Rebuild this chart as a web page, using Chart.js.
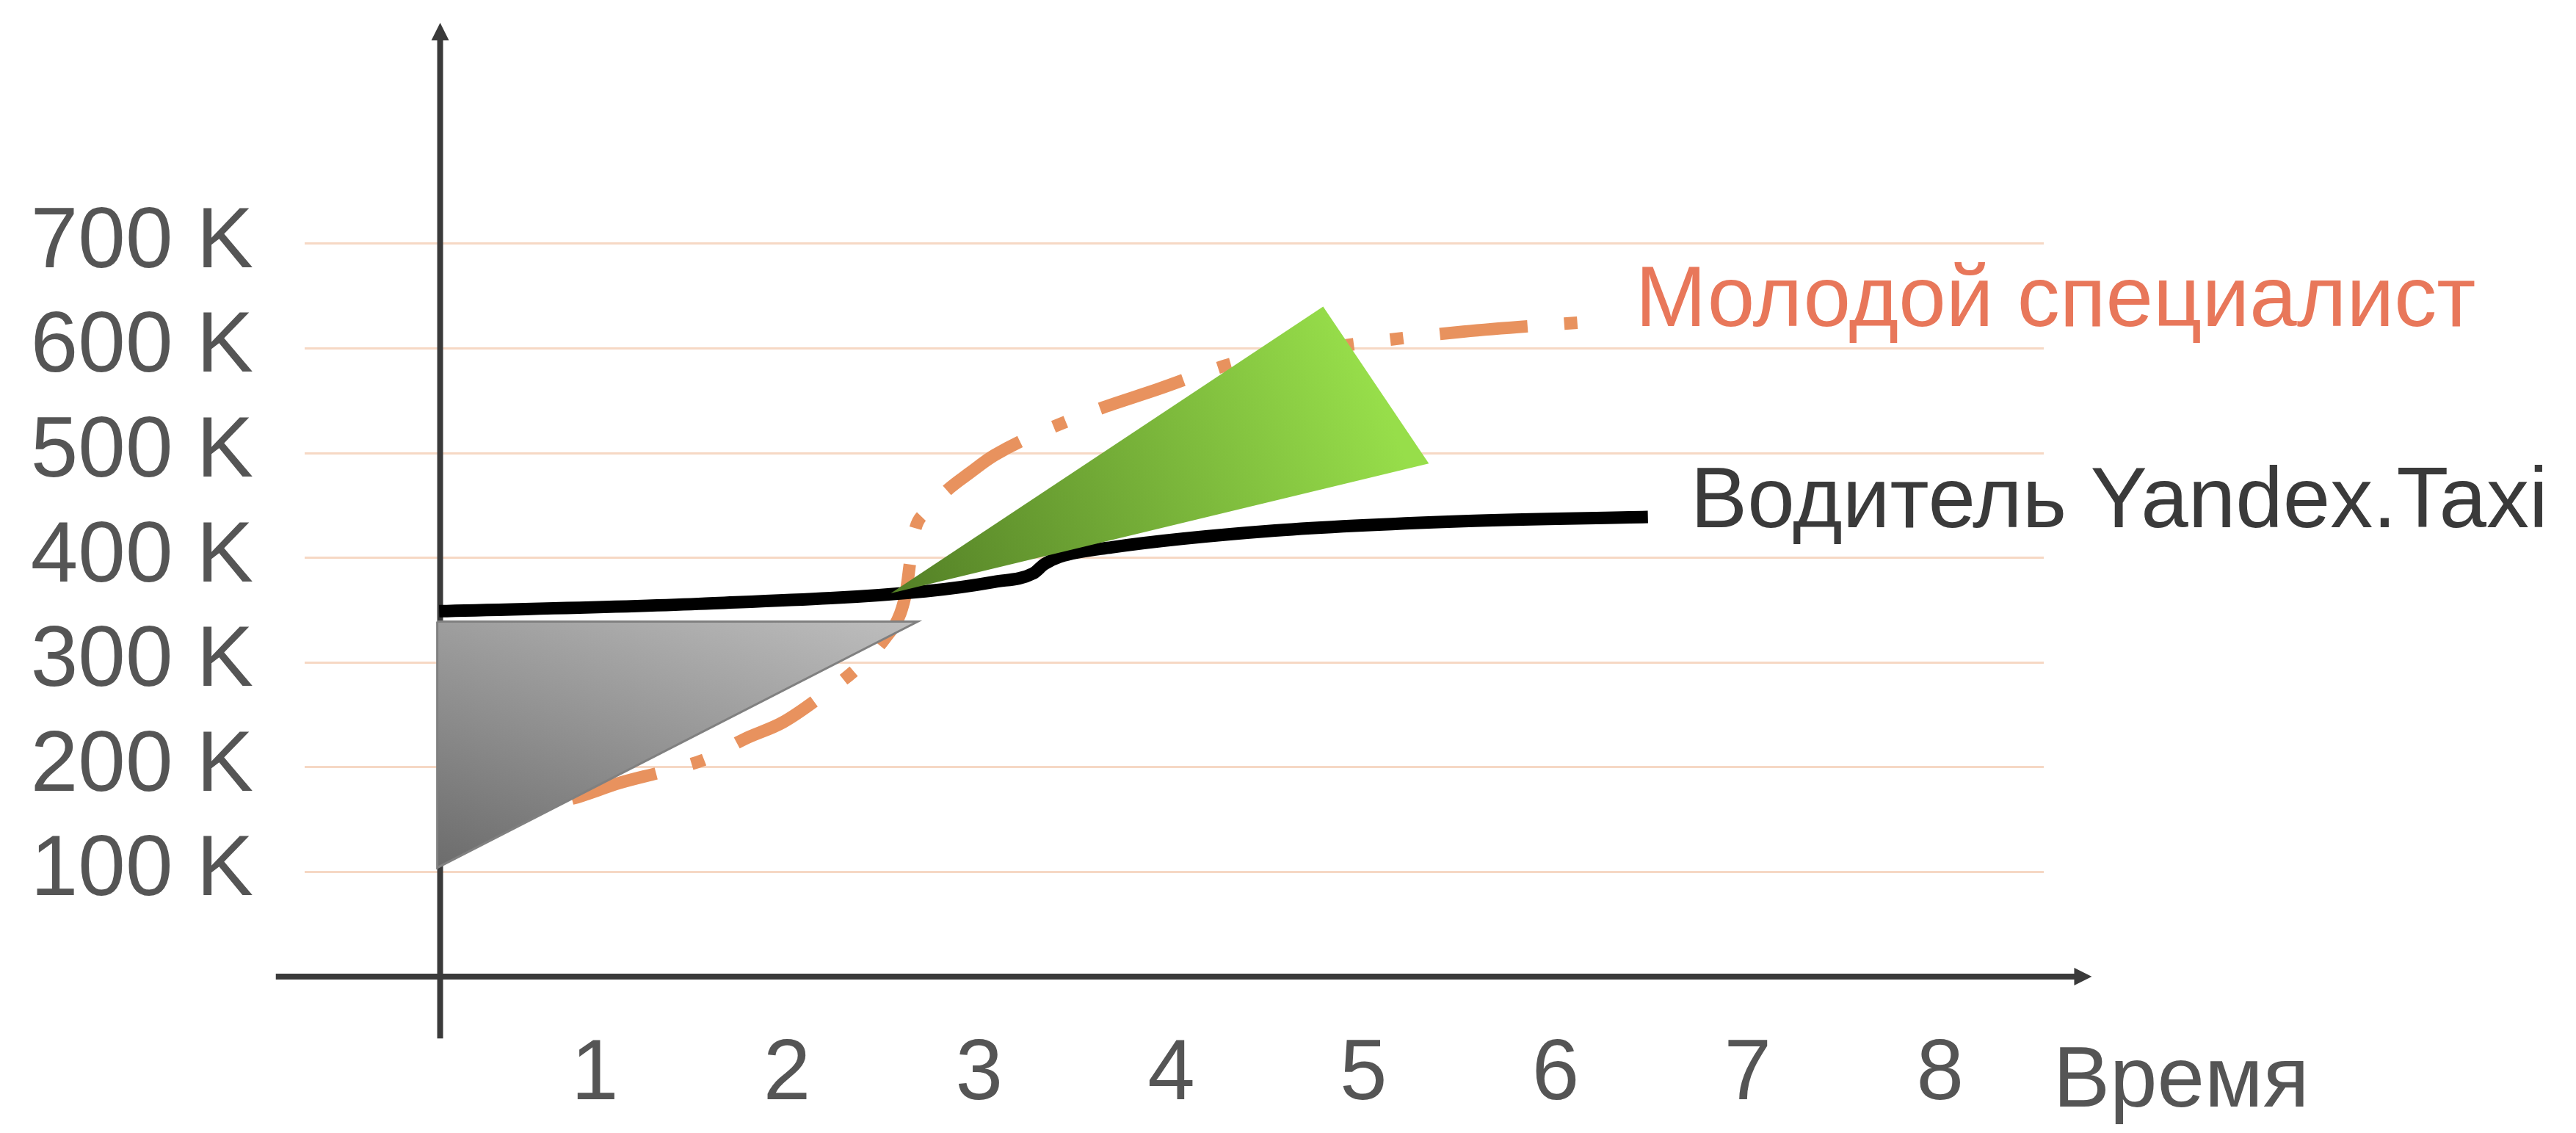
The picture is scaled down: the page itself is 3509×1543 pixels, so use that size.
<!DOCTYPE html>
<html>
<head>
<meta charset="utf-8">
<script src="https://cdn.jsdelivr.net/npm/chart.js@4/dist/chart.umd.min.js"></script>
<style>
html, body { margin: 0; padding: 0; background: #ffffff; }
#wrap { width: 3509px; height: 1543px; position: relative; }
</style>
</head>
<body>
<div id="wrap"><canvas id="c"></canvas></div>
<script>
// ---------- data ----------
const xTickValues = [1, 2, 3, 4, 5, 6, 7, 8];
const xTickLabels = ['1', '2', '3', '4', '5', '6', '7', '8'];
const xAxisTitle = 'Время';
const yTickValues = [100, 200, 300, 400, 500, 600, 700];
const yTickLabels = ['100 K', '200 K', '300 K', '400 K', '500 K', '600 K', '700 K'];

const seriesNames = ['Молодой специалист', 'Водитель Yandex.Taxi'];

// Молодой специалист (orange dash-dot curve)
const youngX = [0.88, 0.92, 1.13, 1.36, 1.58, 1.78, 1.98, 2.18, 2.38, 2.51, 2.59, 2.62, 2.64, 2.66, 2.73, 2.83, 2.95, 3.08, 3.52, 3.93, 4.35, 4.91, 5.52, 6.22];
const youngY = [170, 172, 185, 196, 208, 227, 243, 268, 297, 323, 347, 368, 395, 422, 445, 464, 481, 498, 535, 561, 587, 603, 616, 626];

// Водитель Yandex.Taxi (black curve)
const driverX = [0.19, 1.54, 2.72, 3.08, 3.28, 3.34, 3.42, 3.69, 4.54, 5.52, 6.48];
const driverY = [349, 356, 368, 377, 385, 394, 401, 410, 426, 435, 439];

// decorative triangles (closed polygons)
const grayTriangleX = [0.18, 2.68, 0.18, 0.18];
const grayTriangleY = [339, 339, 104, 339];
const greenTriangleX = [2.54, 4.79, 5.34, 2.54];
const greenTriangleY = [366, 640, 490, 366];

// ---------- helpers ----------
const FONT = "'Liberation Sans', Arial, 'DejaVu Sans', sans-serif";
const toPts = (xs, ys) => xs.map((x, i) => ({ x: x, y: ys[i] }));

function gradientFill(fromX, fromY, toX, toY, c0, c1) {
  return (context) => {
    const chart = context.chart;
    if (!chart.chartArea) return c1;
    const xs = chart.scales.x, ys = chart.scales.y;
    const g = chart.ctx.createLinearGradient(
      xs.getPixelForValue(fromX), ys.getPixelForValue(fromY),
      xs.getPixelForValue(toX), ys.getPixelForValue(toY));
    g.addColorStop(0, c0);
    g.addColorStop(1, c1);
    return g;
  };
}

const AXIS_COLOR = '#3a3a3a';
const yAxisAtX = 0.195;
const yAxisSpan = [-59, 911];
const xAxisSpan = [-0.66, 8.79];

const axesPlugin = {
  id: 'axesArrows',
  beforeDatasetsDraw(chart) {
    const { ctx, scales: { x, y } } = chart;
    const ax = x.getPixelForValue(yAxisAtX);
    const ay = y.getPixelForValue(0);
    ctx.save();
    ctx.strokeStyle = AXIS_COLOR;
    ctx.fillStyle = AXIS_COLOR;
    ctx.lineWidth = 8;
    ctx.lineCap = 'butt';
    // vertical axis
    const yb = y.getPixelForValue(yAxisSpan[0]);
    const yt = y.getPixelForValue(yAxisSpan[1]);
    ctx.beginPath();
    ctx.moveTo(ax, yb);
    ctx.lineTo(ax, yt + 22);
    ctx.stroke();
    ctx.beginPath();
    ctx.moveTo(ax, yt);
    ctx.lineTo(ax - 12, yt + 24);
    ctx.lineTo(ax + 12, yt + 24);
    ctx.closePath();
    ctx.fill();
    // horizontal axis
    const xl = x.getPixelForValue(xAxisSpan[0]);
    const xr = x.getPixelForValue(xAxisSpan[1]);
    ctx.beginPath();
    ctx.moveTo(xl, ay);
    ctx.lineTo(xr - 22, ay);
    ctx.stroke();
    ctx.beginPath();
    ctx.moveTo(xr, ay);
    ctx.lineTo(xr - 24, ay - 12);
    ctx.lineTo(xr - 24, ay + 12);
    ctx.closePath();
    ctx.fill();
    ctx.restore();
  },
  afterDatasetsDraw(chart) {
    const { ctx, scales: { x, y } } = chart;
    ctx.save();
    ctx.font = '116px ' + FONT;
    ctx.textBaseline = 'alphabetic';
    ctx.textAlign = 'left';
    // x axis title
    ctx.fillStyle = '#555555';
    ctx.fillText(xAxisTitle, x.getPixelForValue(xTickValues[xTickValues.length - 1]) + 154, y.getPixelForValue(0) + 177);
    // series labels at the end of their lines
    const m0 = chart.getDatasetMeta(0);
    const m1 = chart.getDatasetMeta(1);
    const p0 = m0.data[m0.data.length - 1];
    const p1 = m1.data[m1.data.length - 1];
    ctx.fillStyle = '#e8775a';
    ctx.fillText(seriesNames[0], p0.x + 51, p0.y + 7);
    ctx.fillStyle = '#3a3a3a';
    ctx.fillText(seriesNames[1], p1.x + 58, p1.y + 14);
    ctx.restore();
  }
};

new Chart(document.getElementById('c'), {
  type: 'line',
  data: {
    datasets: [
      {
        label: seriesNames[0],
        data: toPts(youngX, youngY),
        borderColor: '#e8925e',
        borderWidth: 17,
        borderDash: [120, 50, 18, 50],
        borderCapStyle: 'butt',
        cubicInterpolationMode: 'monotone',
        pointRadius: 0,
        fill: false,
        order: 3
      },
      {
        label: seriesNames[1],
        data: toPts(driverX, driverY),
        borderColor: '#000000',
        borderWidth: 17,
        cubicInterpolationMode: 'monotone',
        pointRadius: 0,
        fill: false,
        order: 2
      },
      {
        label: 'gray',
        data: toPts(grayTriangleX, grayTriangleY),
        borderColor: '#808080',
        borderWidth: 3,
        tension: 0,
        pointRadius: 0,
        fill: 'shape',
        backgroundColor: gradientFill(0.18, 104, 0.81, 452, '#6c6c6c', '#bebebe'),
        order: 1
      },
      {
        label: 'green',
        data: toPts(greenTriangleX, greenTriangleY),
        borderWidth: 0,
        borderColor: 'rgba(0,0,0,0)',
        tension: 0,
        pointRadius: 0,
        fill: 'shape',
        backgroundColor: gradientFill(2.54, 366, 5.06, 565, '#537f26', '#97de4a'),
        order: 0
      }
    ]
  },
  options: {
    responsive: true,
    maintainAspectRatio: false,
    devicePixelRatio: 1,
    animation: false,
    events: [],
    layout: { padding: { left: 0, top: 31, right: 725, bottom: 0 } },
    plugins: { legend: { display: false }, tooltip: { enabled: false } },
    scales: {
      x: {
        type: 'linear',
        min: -0.51,
        max: 8.54,
        border: { display: false },
        grid: { display: false, drawTicks: false },
        afterBuildTicks: (s) => { s.ticks = xTickValues.map(v => ({ value: v })); },
        afterFit: (s) => { s.height = 213; s.paddingLeft = 0; s.paddingRight = 0; },
        ticks: {
          autoSkip: false,
          maxRotation: 0,
          padding: 65,
          color: '#555555',
          font: { family: FONT, size: 116 },
          callback: (v, i) => xTickLabels[i]
        }
      },
      y: {
        type: 'linear',
        min: 0,
        max: 911,
        border: { display: false },
        grid: { color: '#f6d8c4', lineWidth: 3, drawTicks: false },
        afterBuildTicks: (s) => { s.ticks = yTickValues.map(v => ({ value: v })); },
        afterFit: (s) => { s.width = 415; s.paddingTop = 0; s.paddingBottom = 0; },
        ticks: {
          autoSkip: false,
          padding: 70,
          color: '#555555',
          font: { family: FONT, size: 116 },
          callback: (v, i) => yTickLabels[i]
        }
      }
    }
  },
  plugins: [axesPlugin]
});
</script>
</body>
</html>
